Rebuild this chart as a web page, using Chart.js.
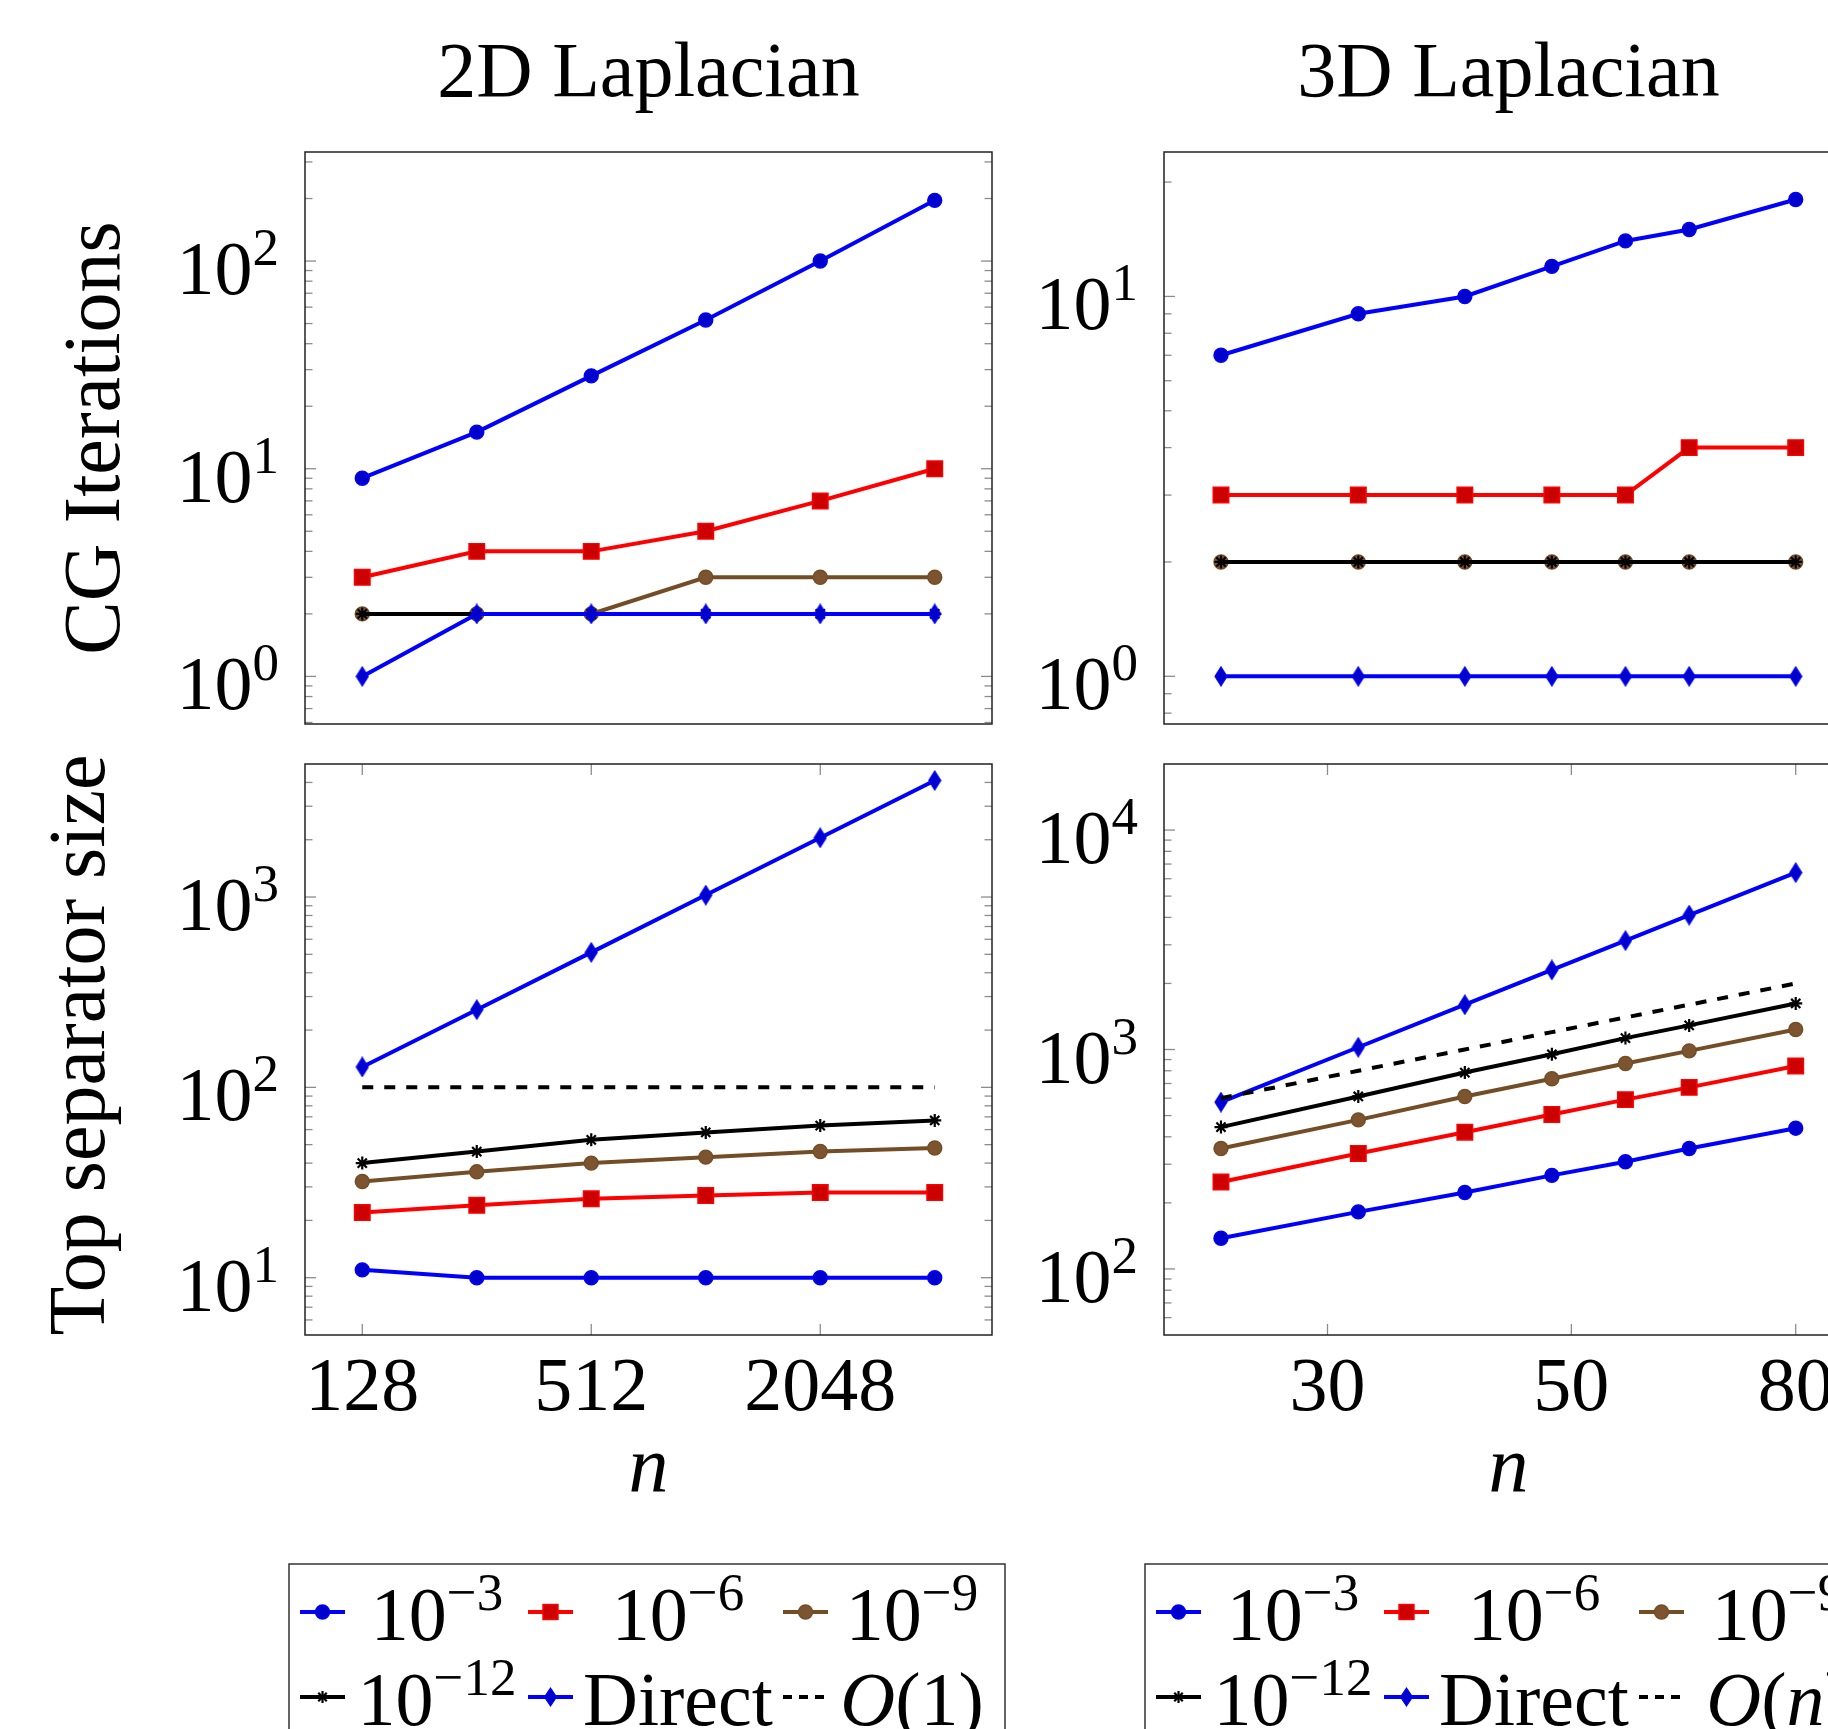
<!DOCTYPE html>
<html>
<head>
<meta charset="utf-8">
<title>CG iterations and top separator size</title>
<script src="https://cdn.jsdelivr.net/npm/chart.js@4.4.1/dist/chart.umd.min.js"></script>
<style>
  html, body { margin: 0; padding: 0; background: #fff; overflow: hidden; }
  #page { position: relative; width: 1900px; height: 1800px; }
  #page canvas { position: absolute; }
  #overlay { position: absolute; left: 0; top: 0; font-family: "Liberation Serif", "DejaVu Serif", serif; }
</style>
</head>
<body>
<div id="page">
  <canvas id="cg2d"></canvas>
  <canvas id="cg3d"></canvas>
  <canvas id="sep2d"></canvas>
  <canvas id="sep3d"></canvas>
  <svg id="overlay" width="1900" height="1800"></svg>
</div>
<script>
// problem sizes
const n2D = [128, 256, 512, 1024, 2048, 4096];
const n3D = [24, 32, 40, 48, 56, 64, 80];

// CG iterations, 2D
const cg2D_tol3 = [9, 15, 28, 52, 100, 196];
const cg2D_tol6 = [3, 4, 4, 5, 7, 10];
const cg2D_tol9 = [2, 2, 2, 3, 3, 3];
const cg2D_tol12 = [2, 2, 2, 2, 2, 2];
const cg2D_direct = [1, 2, 2, 2, 2, 2];

// CG iterations, 3D
const cg3D_tol3 = [7, 9, 10, 12, 14, 15, 18];
const cg3D_tol6 = [3, 3, 3, 3, 3, 4, 4];
const cg3D_tol9 = [2, 2, 2, 2, 2, 2, 2];
const cg3D_tol12 = [2, 2, 2, 2, 2, 2, 2];
const cg3D_direct = [1, 1, 1, 1, 1, 1, 1];

// top separator size, 2D
const sep2D_tol3 = [11, 10, 10, 10, 10, 10];
const sep2D_tol6 = [22, 24, 26, 27, 28, 28];
const sep2D_tol9 = [32, 36, 40, 43, 46, 48];
const sep2D_tol12 = [40, 46, 53, 58, 63, 67];
const sep2D_direct = [128, 256, 512, 1024, 2048, 4096];
const sep2D_ref = [100, 100, 100, 100, 100, 100];

// top separator size, 3D
const sep3D_tol3 = [138, 182, 223, 267, 308, 354, 438];
const sep3D_tol6 = [249, 336, 420, 506, 591, 672, 841];
const sep3D_tol9 = [354, 478, 611, 736, 863, 986, 1234];
const sep3D_tol12 = [443, 611, 785, 951, 1127, 1288, 1621];
const sep3D_direct = [576, 1024, 1600, 2304, 3136, 4096, 6400];
const sep3D_ref = [600, 800, 1000, 1200, 1400, 1600, 2000];

// tick labels
const xTicks2D = [128, 512, 2048];
const xTicks3D = [30, 50, 80];
const yTicksCG2D = [1, 10, 100];
const yTicksCG3D = [1, 10];
const yTicksSep2D = [10, 100, 1000];
const yTicksSep3D = [100, 1000, 10000];

const panelTitles = ['2D Laplacian', '3D Laplacian'];
const rowLabels = ['CG Iterations', 'Top separator size'];
const legendLabels2D = ['10^−3', '10^−6', '10^−9', '10^−12', 'Direct', '*O*(1)'];
const legendLabels3D = ['10^−3', '10^−6', '10^−9', '10^−12', 'Direct', '*O*(*n*)'];

const FONT = '"Liberation Serif", "DejaVu Serif", serif';

function diamondMarker(w, h, fill, stroke) {
  const c = document.createElement('canvas');
  c.width = w + 2; c.height = h + 2;
  const g = c.getContext('2d');
  g.beginPath();
  g.moveTo(c.width / 2, 1);
  g.lineTo(c.width - 1, c.height / 2);
  g.lineTo(c.width / 2, c.height - 1);
  g.lineTo(1, c.height / 2);
  g.closePath();
  g.fillStyle = fill; g.fill();
  g.lineWidth = 1.2; g.strokeStyle = stroke; g.stroke();
  return c;
}

// pgfplots default cycle: blue *, red square*, brown otimes*, black star, blue diamond*, dashed reference
const styles = [
  { color: '#0000ff', fill: '#0000cc', marker: 'circle', radius: 7, bw: 1.4 },
  { color: '#ff0000', fill: '#cc0000', marker: 'rect', radius: 11, bw: 1.4 },
  { color: '#734d26', fill: '#7d5430', marker: 'circle', radius: 7, bw: 1.4 },
  { color: '#000000', fill: '#000000', marker: 'star', radius: 6.5, bw: 2.2 },
  { color: '#0000ff', fill: '#0000cc', marker: diamondMarker(12, 19, '#0000cc', '#0000ff'), radius: 8, bw: 0 },
  { color: '#000000', fill: '#000000', marker: false, radius: 0, bw: 0, dash: [11, 11] }
];

const panels = [
  { id: 'cg2d', box: [130, 120, 880, 620], area: [305, 152, 992, 724], n: n2D,
    x: [90.5, 5793], y: [0.59, 335], xTicks: [], yTicks: yTicksCG2D,
    series: [cg2D_tol3, cg2D_tol6, cg2D_tol9, cg2D_tol12, cg2D_direct] },
  { id: 'cg3d', box: [1010, 120, 880, 620], area: [1164, 152, 1853, 724], n: n3D,
    x: [21.3, 90.2], y: [0.749, 24], xTicks: [], yTicks: yTicksCG3D,
    series: [cg3D_tol3, cg3D_tol6, cg3D_tol9, cg3D_tol12, cg3D_direct] },
  { id: 'sep2d', box: [130, 740, 880, 720], area: [305, 764, 992, 1335], n: n2D,
    x: [90.5, 5793], y: [5, 5000], xTicks: xTicks2D, yTicks: yTicksSep2D,
    series: [sep2D_tol3, sep2D_tol6, sep2D_tol9, sep2D_tol12, sep2D_direct, sep2D_ref] },
  { id: 'sep3d', box: [1010, 740, 880, 720], area: [1164, 764, 1853, 1335], n: n3D,
    x: [21.3, 90.2], y: [50, 20000], xTicks: xTicks3D, yTicks: yTicksSep3D,
    series: [sep3D_tol3, sep3D_tol6, sep3D_tol9, sep3D_tol12, sep3D_direct, sep3D_ref] }
];

const framePlugin = {
  id: 'frame',
  afterDatasetsDraw(chart, args, opts) {
    const { ctx, chartArea: a } = chart;
    const xs = chart.scales.x, ys = chart.scales.y;
    const seg = (x1, y1, x2, y2) => { ctx.beginPath(); ctx.moveTo(x1, y1); ctx.lineTo(x2, y2); ctx.stroke(); };
    ctx.save();
    ctx.strokeStyle = '#8c8c8c';
    ctx.lineWidth = 1.3;

    // minor y ticks, both sides
    const e0 = Math.floor(Math.log10(ys.min)), e1 = Math.ceil(Math.log10(ys.max));
    for (let e = e0; e <= e1; e++) {
      for (let k = 2; k <= 9; k++) {
        const v = k * Math.pow(10, e);
        if (v <= ys.min || v >= ys.max) continue;
        const py = ys.getPixelForValue(v);
        seg(a.left, py, a.left + 7.5, py);
        seg(a.right - 7.5, py, a.right, py);
      }
    }
    // major y ticks
    opts.yTicks.forEach(v => {
      const py = ys.getPixelForValue(v);
      seg(a.left, py, a.left + 11, py);
      seg(a.right - 11, py, a.right, py);
    });
    // x ticks, top and bottom
    opts.xTicks.forEach(v => {
      const px = xs.getPixelForValue(v);
      seg(px, a.bottom, px, a.bottom - 11);
      seg(px, a.top, px, a.top + 11);
    });

    ctx.strokeStyle = '#222';
    ctx.lineWidth = 1.5;
    ctx.strokeRect(a.left, a.top, a.right - a.left, a.bottom - a.top);

    // tick labels
    ctx.fillStyle = '#000';
    ctx.textBaseline = 'alphabetic';
    opts.yTicks.forEach(v => {
      const py = ys.getPixelForValue(v);
      const exp = String(Math.round(Math.log10(v)));
      const xr = a.left - 26;
      ctx.font = '53px ' + FONT;
      ctx.textAlign = 'right';
      ctx.fillText(exp, xr, py + 4);
      const w = ctx.measureText(exp).width;
      ctx.font = '76px ' + FONT;
      ctx.fillText('10', xr - w, py + 33);
    });
    ctx.font = '76px ' + FONT;
    ctx.textAlign = 'center';
    opts.xTicks.forEach(v => {
      ctx.fillText(String(v), xs.getPixelForValue(v), a.bottom + 75);
    });
    ctx.restore();
  }
};

function makeDataset(n, vals, i) {
  const st = styles[i];
  return {
    data: n.map((x, k) => ({ x: x, y: vals[k] })),
    borderColor: st.color,
    backgroundColor: st.fill,
    borderWidth: 4,
    borderDash: st.dash || [],
    pointStyle: st.marker,
    pointRadius: st.radius,
    pointBackgroundColor: st.fill,
    pointBorderColor: st.color,
    pointBorderWidth: st.bw,
    tension: 0,
    fill: false,
    clip: false,
    order: -i
  };
}

// log axis pinned to the given range
function logAxis(range) {
  return {
    type: 'logarithmic', min: range[0], max: range[1], display: false, bounds: 'data',
    afterBuildTicks: s => { s.min = range[0]; s.max = range[1]; }
  };
}

panels.forEach(p => {
  const cv = document.getElementById(p.id);
  const [cx, cy, cw, ch] = p.box;
  const [l, t, r, b] = p.area;
  cv.width = cw; cv.height = ch;
  cv.style.left = cx + 'px';
  cv.style.top = cy + 'px';
  new Chart(cv, {
    type: 'line',
    data: { datasets: p.series.map((vals, i) => makeDataset(p.n, vals, i)) },
    options: {
      responsive: false,
      animation: false,
      events: [],
      layout: { padding: { left: l - cx, top: t - cy, right: cx + cw - r, bottom: cy + ch - b } },
      scales: { x: logAxis(p.x), y: logAxis(p.y) },
      plugins: {
        legend: { display: false },
        tooltip: { enabled: false },
        frame: { xTicks: p.xTicks, yTicks: p.yTicks }
      }
    },
    plugins: [framePlugin]
  });
});

// titles, axis labels and legends
function labelMarkup(s) {
  let out = s.replace(/\*([^*]+)\*/g, '<tspan font-style="italic">$1</tspan>');
  const parts = out.split('^');
  if (parts.length === 2) out = parts[0] + '<tspan dy="-30" font-size="53">' + parts[1] + '</tspan>';
  return out;
}

function sampleMarkup(x, y, st) {
  let s = '<line x1="' + x + '" y1="' + y + '" x2="' + (x + 45) + '" y2="' + y + '" stroke="' + st.color +
    '" stroke-width="4"' + (st.dash ? ' stroke-dasharray="9 7"' : '') + '/>';
  const cx = x + 22.5;
  if (st.marker === 'circle') {
    s += '<circle cx="' + cx + '" cy="' + y + '" r="7" fill="' + st.fill + '" stroke="' + st.color + '" stroke-width="1.4"/>';
  } else if (st.marker === 'rect') {
    s += '<rect x="' + (cx - 7.5) + '" y="' + (y - 7.5) + '" width="15" height="15" fill="' + st.fill + '" stroke="' + st.color + '" stroke-width="1.4"/>';
  } else if (st.marker === 'star') {
    for (let k = 0; k < 4; k++) {
      const ang = k * Math.PI / 4;
      const dx = 6 * Math.cos(ang), dy = 6 * Math.sin(ang);
      s += '<line x1="' + (cx - dx) + '" y1="' + (y - dy) + '" x2="' + (cx + dx) + '" y2="' + (y + dy) + '" stroke="#000" stroke-width="2.2"/>';
    }
  } else if (st.marker) {
    s += '<polygon points="' + cx + ',' + (y - 9) + ' ' + (cx + 6) + ',' + y + ' ' + cx + ',' + (y + 9) + ' ' + (cx - 6) + ',' + y + '" fill="#0000cc" stroke="#0000ff" stroke-width="1.2"/>';
  }
  return s;
}

function legendMarkup(left, labels, textCenters) {
  let s = '<rect x="' + left + '" y="1564" width="716" height="220" fill="#fff" stroke="#333" stroke-width="1.5"/>';
  const sampleOffsets = [11, 239, 494];
  labels.forEach((lab, i) => {
    const row = Math.floor(i / 3), col = i % 3;
    s += sampleMarkup(left + sampleOffsets[col], 1612 + 85 * row, styles[i]);
    s += '<text x="' + (left + textCenters[col]) + '" y="' + (1640 + 85 * row) +
      '" text-anchor="middle" font-size="76">' + labelMarkup(lab) + '</text>';
  });
  return s;
}

let svg = '';
svg += '<text x="648.5" y="96" text-anchor="middle" font-size="78">' + panelTitles[0] + '</text>';
svg += '<text x="1508.5" y="96" text-anchor="middle" font-size="78">' + panelTitles[1] + '</text>';
svg += '<text transform="translate(119,438) rotate(-90)" text-anchor="middle" font-size="80">' + rowLabels[0] + '</text>';
svg += '<text transform="translate(104,1045) rotate(-90)" text-anchor="middle" font-size="80">' + rowLabels[1] + '</text>';
svg += '<text x="648.5" y="1491" text-anchor="middle" font-size="80" font-style="italic">n</text>';
svg += '<text x="1508.5" y="1491" text-anchor="middle" font-size="80" font-style="italic">n</text>';
svg += legendMarkup(289, legendLabels2D, [148, 389, 623]);
svg += legendMarkup(1145, legendLabels3D, [148, 389, 633]);
document.getElementById('overlay').innerHTML = svg;
</script>
</body>
</html>
